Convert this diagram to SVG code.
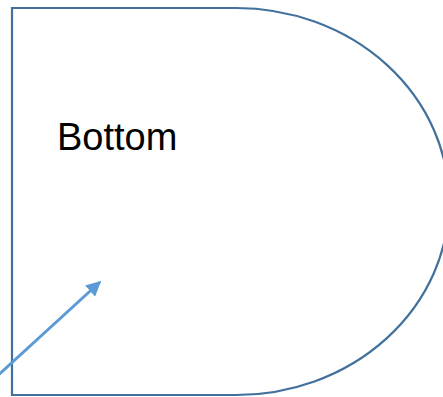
<svg xmlns="http://www.w3.org/2000/svg" width="443" height="397" viewBox="0 0 443 397">
<style>
.shape{fill:#ffffff;stroke:#41719c;stroke-width:2.2}
.lbl{font-family:"Liberation Sans",Arial,sans-serif;font-size:38px;fill:#000000}
.conn{stroke:#5b9bd5;stroke-width:3;fill:none}
</style>
<defs>
<marker id="ah" viewBox="0 0 10 10" refX="9" refY="5" markerWidth="5" markerHeight="5" orient="auto" markerUnits="strokeWidth">
<path d="M0,0 L10,5 L0,10 Z" fill="#5b9bd5"/>
</marker>
</defs>
<rect width="443" height="397" fill="#ffffff"/>
<g id="node-bottom">
<path class="shape" d="M12,8 H236 A213,193.5 0 0 1 236,395 H12 Z"/>
<text class="lbl" x="57" y="150">Bottom</text>
</g>
<g id="connectors">
<line class="conn" x1="-6" y1="379" x2="100" y2="282" marker-end="url(#ah)"/>
</g>
</svg>
